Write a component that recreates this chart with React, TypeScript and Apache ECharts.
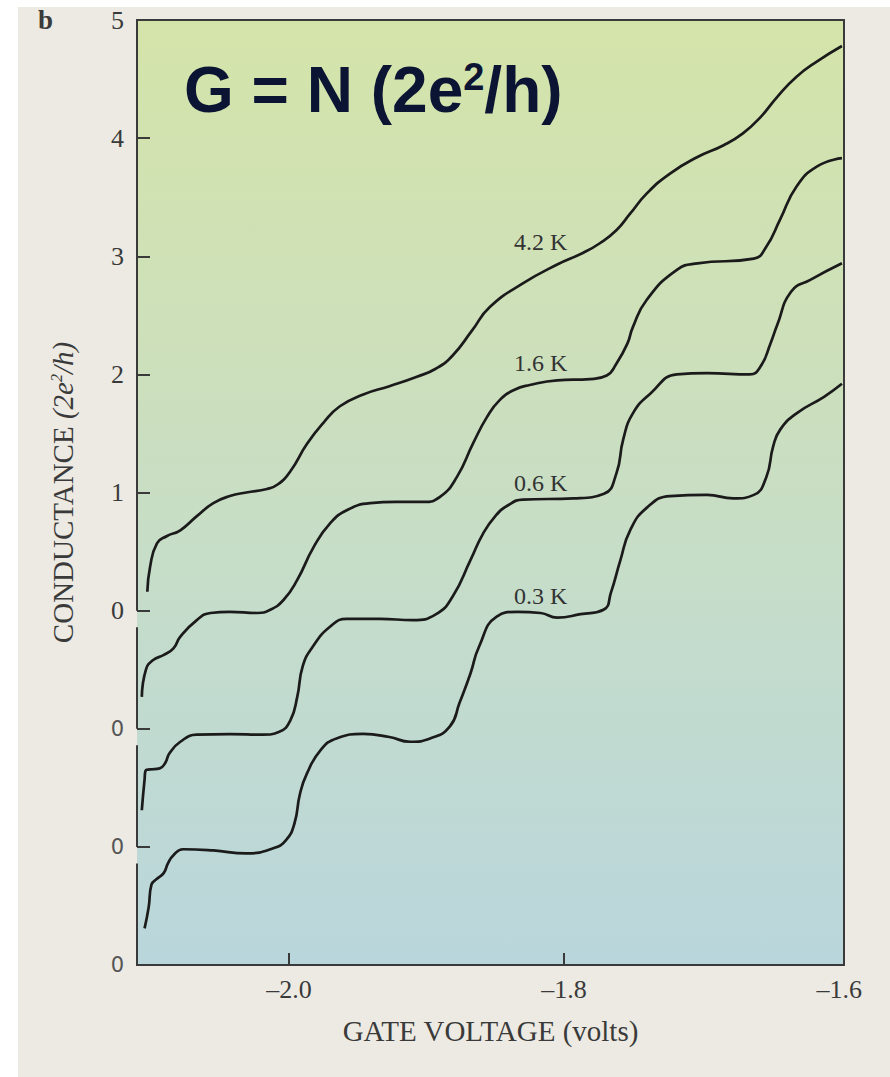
import React, { useEffect, useRef } from "react";
import * as echarts from "echarts";

// ---- Data (gate voltage in volts, conductance in units of 2e^2/h) ----
const voltage42 = [-2.103, -2.101, -2.096, -2.089, -2.079, -2.067, -2.055, -2.043, -2.031, -2.016, -2.008, -1.999, -1.987, -1.975, -1.963, -1.946, -1.927, -1.907, -1.893, -1.881, -1.867, -1.854, -1.830, -1.805, -1.786, -1.774, -1.762, -1.752, -1.740, -1.723, -1.703, -1.684, -1.670, -1.657, -1.645, -1.631, -1.616, -1.598];
const conductance42 = [0.16, 0.37, 0.57, 0.63, 0.68, 0.80, 0.91, 0.97, 1.00, 1.03, 1.07, 1.18, 1.41, 1.59, 1.73, 1.83, 1.90, 1.98, 2.05, 2.16, 2.37, 2.57, 2.77, 2.93, 3.03, 3.11, 3.22, 3.36, 3.53, 3.70, 3.84, 3.94, 4.04, 4.18, 4.35, 4.52, 4.65, 4.78];

const voltage16 = [-2.107, -2.104, -2.099, -2.091, -2.084, -2.079, -2.067, -2.057, -2.043, -2.023, -2.014, -2.004, -1.994, -1.982, -1.970, -1.958, -1.941, -1.922, -1.902, -1.890, -1.878, -1.866, -1.856, -1.847, -1.836, -1.825, -1.805, -1.781, -1.769, -1.762, -1.754, -1.750, -1.740, -1.718, -1.703, -1.662, -1.653, -1.643, -1.631, -1.616, -1.598];
const conductance16 = [0.27, 0.50, 0.58, 0.625, 0.68, 0.78, 0.92, 0.98, 0.99, 0.98, 1.005, 1.09, 1.26, 1.54, 1.74, 1.85, 1.91, 1.92, 1.92, 1.965, 2.13, 2.42, 2.64, 2.78, 2.87, 2.91, 2.95, 2.96, 2.99, 3.09, 3.26, 3.40, 3.63, 3.885, 3.94, 3.98, 4.08, 4.31, 4.59, 4.76, 4.83];

const voltage06 = [-2.107, -2.105, -2.104, -2.101, -2.094, -2.090, -2.087, -2.079, -2.067, -2.043, -2.019, -2.007, -1.999, -1.994, -1.990, -1.983, -1.970, -1.958, -1.934, -1.910, -1.893, -1.881, -1.868, -1.859, -1.850, -1.841, -1.830, -1.793, -1.771, -1.762, -1.757, -1.750, -1.737, -1.718, -1.696, -1.665, -1.657, -1.650, -1.645, -1.635, -1.621, -1.598];
const conductance06 = [0.31, 0.57, 0.65, 0.656, 0.665, 0.71, 0.79, 0.89, 0.95, 0.955, 0.95, 0.975, 1.07, 1.27, 1.53, 1.69, 1.865, 1.93, 1.93, 1.92, 1.97, 2.12, 2.43, 2.65, 2.80, 2.89, 2.94, 2.95, 2.99, 3.16, 3.45, 3.67, 3.84, 4.00, 4.01, 4.00, 4.07, 4.26, 4.42, 4.70, 4.80, 4.94];

const voltage03 = [-2.105, -2.102, -2.100, -2.096, -2.091, -2.088, -2.084, -2.077, -2.055, -2.031, -2.011, -2.002, -1.996, -1.992, -1.987, -1.977, -1.965, -1.946, -1.927, -1.912, -1.897, -1.883, -1.876, -1.868, -1.862, -1.849, -1.834, -1.817, -1.805, -1.788, -1.771, -1.766, -1.759, -1.752, -1.740, -1.723, -1.696, -1.677, -1.662, -1.653, -1.648, -1.643, -1.631, -1.611, -1.598];
const conductance03 = [0.31, 0.49, 0.68, 0.73, 0.78, 0.86, 0.93, 0.98, 0.97, 0.945, 0.99, 1.06, 1.20, 1.45, 1.62, 1.82, 1.92, 1.956, 1.93, 1.89, 1.92, 2.02, 2.22, 2.47, 2.69, 2.95, 2.99, 2.98, 2.94, 2.97, 3.01, 3.15, 3.43, 3.68, 3.87, 3.97, 3.98, 3.95, 3.98, 4.13, 4.39, 4.53, 4.67, 4.81, 4.92];

const curveNames = ["4.2 K", "1.6 K", "0.6 K", "0.3 K"];
const curveOffsets = [0, -1, -2, -3];
const curveVoltages = [voltage42, voltage16, voltage06, voltage03];
const curveConductances = [conductance42, conductance16, conductance06, conductance03];

const xTickValues = [-2.0, -1.8];
const xLabelValues = [-2.0, -1.8, -1.6];
const xMin = -2.1105;
const xMax = -1.5965;
const yMin = -3;
const yMax = 5;

// temperature label anchors (data coords)
const labelVoltage = -1.8365;
const labelLevels = [3.12, 2.1, 1.08, 0.12];

export default function App() {
  const ref = useRef<HTMLDivElement>(null);
  useEffect(() => {
    document.body.style.margin = "0";
    const chart = echarts.init(ref.current!, null, { renderer: "svg" });
    const axisColor = "#3a3a3a";
    const serif = "Liberation Serif";

    const series = curveNames.map((name, i) => ({
      name,
      type: "line",
      xAxisIndex: 0,
      yAxisIndex: 0,
      data: curveVoltages[i].map((v, j) => [v, curveConductances[i][j] + curveOffsets[i]]),
      smooth: 0.5,
      showSymbol: false,
      symbol: "none",
      lineStyle: { color: "#1b1b1b", width: 2.7 },
      z: 5,
    }));

    chart.setOption({
      animation: false,
      backgroundColor: "#eceae3",
      grid: {
        left: 137,
        top: 20,
        width: 707,
        height: 945,
        show: true,
        borderWidth: 0,
        backgroundColor: new echarts.graphic.LinearGradient(0, 0, 0, 1, [
          { offset: 0, color: "#d4e4a9" },
          { offset: 0.35, color: "#cde0bb" },
          { offset: 0.65, color: "#c4dccc" },
          { offset: 1, color: "#b9d6dc" },
        ]),
      },
      xAxis: [
        {
          type: "value",
          min: xMin,
          max: xMax,
          position: "bottom",
          splitLine: { show: false },
          axisLine: { show: true, onZero: false, lineStyle: { color: axisColor, width: 2 } },
          axisTick: { show: true, inside: true, length: 12, customValues: xTickValues, lineStyle: { color: axisColor, width: 2 } },
          axisLabel: {
            customValues: xLabelValues,
            formatter: (v: number) => "\u2013" + Math.abs(v).toFixed(1),
            fontFamily: serif,
            fontSize: 26,
            color: "#3a3a3a",
            margin: 11,
          },
          name: "GATE VOLTAGE (volts)",
          nameLocation: "middle",
          nameGap: 51,
          nameTextStyle: { fontFamily: serif, fontSize: 29, color: "#3a3a3a" },
        },
        {
          type: "value",
          min: xMin,
          max: xMax,
          position: "top",
          splitLine: { show: false },
          axisLine: { show: true, onZero: false, lineStyle: { color: axisColor, width: 2 } },
          axisTick: { show: false },
          axisLabel: { show: false },
        },
      ],
      yAxis: [
        {
          type: "value",
          min: yMin,
          max: yMax,
          interval: 1,
          position: "left",
          splitLine: { show: false },
          axisLine: { show: false, onZero: false },
          axisTick: { show: true, inside: true, length: 13, lineStyle: { color: axisColor, width: 2 } },
          axisLabel: {
            showMinLabel: true,
            showMaxLabel: true,
            margin: 13,
            formatter: (v: number) => (v < 0 ? "{z|0}" : "{n|" + v + "}"),
            rich: {
              n: { fontFamily: serif, fontSize: 26, color: "#3a3a3a" },
              z: { fontFamily: "DejaVu Sans", fontSize: 21, color: "#555555" },
            },
          },
          name: "CONDUCTANCE {i|(2e}{s|2}{i|/h)}",
          nameLocation: "middle",
          nameRotate: 90,
          nameGap: 60,
          nameTextStyle: {
            fontFamily: serif,
            fontSize: 29,
            color: "#3a3a3a",
            rich: {
              i: { fontFamily: serif, fontSize: 29, fontStyle: "italic", color: "#3a3a3a" },
              s: { fontFamily: serif, fontSize: 16, fontStyle: "italic", color: "#3a3a3a", verticalAlign: "top", padding: [0, 0, 11, 0] },
            },
          },
        },
        {
          type: "value",
          min: yMin,
          max: yMax,
          position: "right",
          splitLine: { show: false },
          axisLine: { show: true, onZero: false, lineStyle: { color: axisColor, width: 2 } },
          axisTick: { show: false },
          axisLabel: { show: false },
        },
      ],
      series,
    });

    const toPx = (x: number, y: number) => chart.convertToPixel({ gridIndex: 0 }, [x, y]) as number[];

    // left axis drawn in segments, broken just below each offset zero
    const gap = 0.14;
    const segs: number[][] = [];
    curveOffsets.forEach((off, i) => {
      const top = i === 0 ? yMax : curveOffsets[i - 1] - gap;
      segs.push([top, off]);
    });
    const axisSegments = segs.map(([a, b]) => {
      const p1 = toPx(xMin, a);
      const p2 = toPx(xMin, b);
      return {
        type: "line",
        z: 50,
        shape: { x1: p1[0], y1: p1[1] - (a === yMax ? 1 : 0), x2: p2[0], y2: p2[1] + (b === yMin ? 1 : 0) },
        style: { stroke: axisColor, lineWidth: 2 },
      };
    });

    const curveLabels = curveNames.map((name, i) => {
      const p = toPx(labelVoltage, labelLevels[i]);
      return {
        type: "text",
        z: 50,
        x: p[0],
        y: p[1],
        style: { text: name, fontFamily: serif, fontSize: 24, fill: "#333333", align: "left", verticalAlign: "middle" },
      };
    });

    chart.setOption({
      graphic: [
        { type: "rect", z: 60, shape: { x: 0, y: 0, width: 18, height: 1077 }, style: { fill: "#ffffff" } },
        { type: "rect", z: 60, shape: { x: 0, y: 0, width: 890, height: 7 }, style: { fill: "#ffffff" } },
        ...axisSegments,
        ...curveLabels,
        {
          type: "text",
          z: 50,
          x: 38,
          y: 20,
          style: { text: "b", fontFamily: serif, fontWeight: "bold", fontSize: 27, fill: "#3a3a3a", align: "left", verticalAlign: "middle" },
        },
        {
          type: "text",
          z: 50,
          x: 184,
          y: 90,
          style: {
            text: "{a|G = N (2e}{s|2}{a|/h)}",
            align: "left",
            verticalAlign: "middle",
            rich: {
              a: { fontFamily: "Liberation Sans", fontWeight: "bold", fontSize: 64, fill: "#0b1533", color: "#0b1533" },
              s: { fontFamily: "Liberation Sans", fontWeight: "bold", fontSize: 38, fill: "#0b1533", color: "#0b1533", verticalAlign: "top", padding: [0, 0, 24, 0] },
            },
          },
        },
      ],
    });

    return () => chart.dispose();
  }, []);
  return <div ref={ref} style={{ width: 890, height: 1077 }} />;
}
